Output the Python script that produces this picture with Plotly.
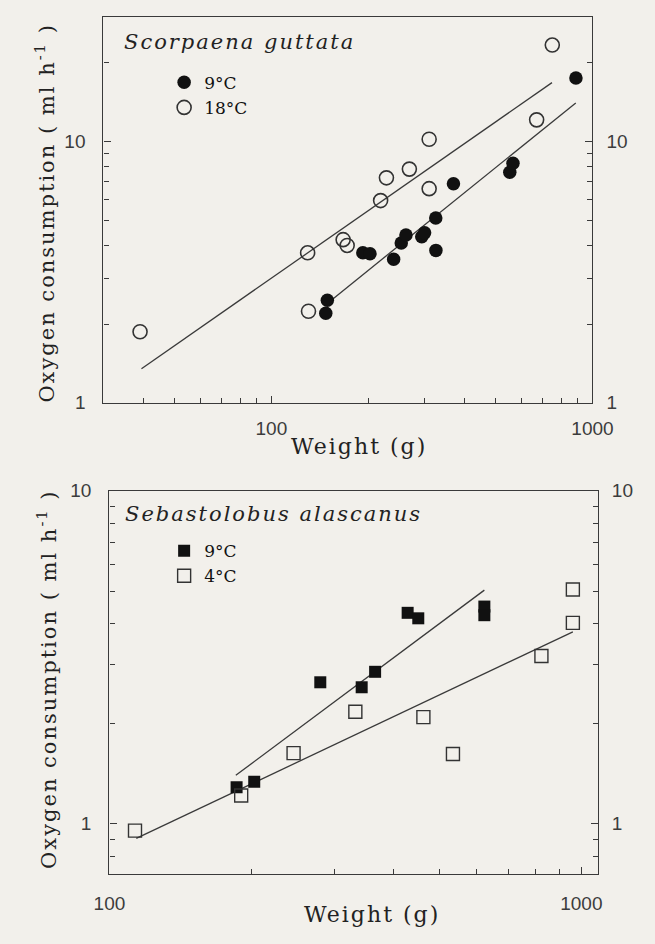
import plotly.graph_objects as go
import math

# ---------------- data: Scorpaena guttata (top panel) ----------------
w_sg_9 = [147.7, 149.4, 192.7, 202.8, 240.3, 253.8, 262.5, 294, 300, 325, 325.4, 369, 552.6, 565.5, 888]
o2_sg_9 = [2.20, 2.47, 3.75, 3.72, 3.54, 4.09, 4.39, 4.32, 4.47, 5.10, 3.83, 6.89, 7.62, 8.25, 17.5]
w_sg_18 = [39.0, 129.7, 130.5, 167.3, 172.2, 218.9, 228.2, 269, 310, 310, 670, 749.6]
o2_sg_18 = [1.87, 3.75, 2.24, 4.21, 4.00, 5.94, 7.26, 7.84, 10.2, 6.60, 12.1, 23.4]
fit_sg_9_w = [153.7, 887]
fit_sg_9_o2 = [2.47, 14.05]
fit_sg_18_w = [39.4, 748]
fit_sg_18_o2 = [1.35, 16.8]

# ---------------- data: Sebastolobus alascanus (bottom panel) ----------------
w_sa_9 = [186, 202.7, 279.8, 342.4, 365.6, 428.5, 451.3, 623, 623]
o2_sa_9 = [1.287, 1.337, 2.66, 2.57, 2.86, 4.30, 4.14, 4.49, 4.23]
w_sa_4 = [113.3, 190.2, 245.6, 332, 462.7, 534.5, 823, 959.5, 959.5]
o2_sa_4 = [0.954, 1.216, 1.63, 2.17, 2.09, 1.62, 3.19, 4.01, 5.05]
fit_sa_9_w = [185.3, 623]
fit_sa_9_o2 = [1.398, 5.03]
fit_sa_4_w = [114, 959.5]
fit_sa_4_o2 = [0.904, 3.77]

# ---------------- tick labels ----------------
x_major = [100, 1000]
x_major_text = ["100", "1000"]
y_major = [1, 10]
y_major_text = ["1", "10"]
x_minor_top = [30, 40, 50, 60, 70, 80, 90, 200, 300, 400, 500, 600, 700, 800, 900]
y_minor_top = [2, 3, 4, 5, 6, 7, 8, 9, 20]
x_minor_bot = [200, 300, 400, 500, 600, 700, 800, 900]
y_minor_bot = [0.8, 0.9, 2, 3, 4, 5, 6, 7, 8, 9]

W, H = 655, 944
BG = "#f2f0eb"
INK = "#111111"
LINE = "#3a3a3a"
SERIF = "DejaVu Serif"
SANS = "Liberation Sans"


def px(x):
    return x / W


def py(y):
    return 1 - y / H


fig = go.Figure()

# top panel traces
fig.add_trace(go.Scatter(x=fit_sg_18_w, y=fit_sg_18_o2, mode="lines", line=dict(color=LINE, width=1.3),
                         showlegend=False, xaxis="x", yaxis="y", hoverinfo="skip"))
fig.add_trace(go.Scatter(x=fit_sg_9_w, y=fit_sg_9_o2, mode="lines", line=dict(color=LINE, width=1.3),
                         showlegend=False, xaxis="x", yaxis="y", hoverinfo="skip"))
fig.add_trace(go.Scatter(x=w_sg_9, y=o2_sg_9, mode="markers", name="9°C",
                         marker=dict(symbol="circle", size=13.5, color=INK, line=dict(width=0)),
                         xaxis="x", yaxis="y", legend="legend"))
fig.add_trace(go.Scatter(x=w_sg_18, y=o2_sg_18, mode="markers", name="18°C",
                         marker=dict(symbol="circle-open", size=14, color="#333333", line=dict(width=1.6)),
                         xaxis="x", yaxis="y", legend="legend"))
# empty trace so the right-hand mirror axis is rendered
fig.add_trace(go.Scatter(x=[], y=[], mode="markers", showlegend=False, xaxis="x", yaxis="y2",
                         hoverinfo="skip"))

# bottom panel traces
fig.add_trace(go.Scatter(x=fit_sa_9_w, y=fit_sa_9_o2, mode="lines", line=dict(color=LINE, width=1.3),
                         showlegend=False, xaxis="x2", yaxis="y3", hoverinfo="skip"))
fig.add_trace(go.Scatter(x=fit_sa_4_w, y=fit_sa_4_o2, mode="lines", line=dict(color=LINE, width=1.3),
                         showlegend=False, xaxis="x2", yaxis="y3", hoverinfo="skip"))
fig.add_trace(go.Scatter(x=w_sa_9, y=o2_sa_9, mode="markers", name="9°C",
                         marker=dict(symbol="square", size=12, color=INK, line=dict(width=0)),
                         xaxis="x2", yaxis="y3", legend="legend2"))
fig.add_trace(go.Scatter(x=w_sa_4, y=o2_sa_4, mode="markers", name="4°C",
                         marker=dict(symbol="square-open", size=13, color="#333333", line=dict(width=1.4)),
                         xaxis="x2", yaxis="y3", legend="legend2"))
fig.add_trace(go.Scatter(x=[], y=[], mode="markers", showlegend=False, xaxis="x2", yaxis="y4",
                         hoverinfo="skip"))

tickfont = dict(family=SANS, size=19, color="#3c3c3c")
common = dict(type="log", showgrid=False, zeroline=False, ticks="inside", ticklen=7, tickwidth=1.2,
              tickcolor=LINE, tickfont=tickfont)


def xaxis(domain, anchor, rng, minor_vals, standoff):
    return dict(common, domain=domain, anchor=anchor, range=rng, tickmode="array",
                tickvals=x_major, ticktext=x_major_text, showline=True, linecolor=LINE, linewidth=1.4,
                mirror=True, ticklabelstandoff=standoff,
                minor=dict(tickmode="array", tickvals=minor_vals, ticks="inside", ticklen=5,
                           tickwidth=1.1, tickcolor=LINE, showgrid=False))


def yaxis(domain, anchor, rng, minor_vals, side="left", overlaying=None):
    d = dict(common, domain=domain, anchor=anchor, range=rng, tickmode="array",
             tickvals=y_major, ticktext=y_major_text, side=side, ticklabelstandoff=13,
             minor=dict(tickmode="array", tickvals=minor_vals, ticks="inside", ticklen=5,
                        tickwidth=1.1, tickcolor=LINE, showgrid=False))
    if overlaying:
        d.update(overlaying=overlaying, showline=False)
    else:
        d.update(showline=True, linecolor=LINE, linewidth=1.4, mirror=True)
    return d


top_x_dom = [px(92.7), px(611)]
top_y_dom = [py(401.7), py(7)]
bot_x_dom = [px(99), px(616.7)]
bot_y_dom = [py(884), py(491.7)]

top_xr = [math.log10(30), 3]
top_yr = [0, math.log10(30)]
bot_xr = [2, 3.035]
bot_yr = [math.log10(0.705), 1]

fig.update_layout(
    width=W, height=H,
    margin=dict(l=0, r=0, t=0, b=0),
    paper_bgcolor=BG, plot_bgcolor=BG,
    xaxis=xaxis(top_x_dom, "y", top_xr, x_minor_top, 8),
    yaxis=yaxis(top_y_dom, "x", top_yr, y_minor_top),
    yaxis2=yaxis(top_y_dom, "x", top_yr, y_minor_top, side="right", overlaying="y"),
    xaxis2=xaxis(bot_x_dom, "y3", bot_xr, x_minor_bot, 12),
    yaxis3=yaxis(bot_y_dom, "x2", bot_yr, y_minor_bot),
    yaxis4=yaxis(bot_y_dom, "x2", bot_yr, y_minor_bot, side="right", overlaying="y3"),
    legend=dict(x=px(157), y=py(56), xanchor="left", yanchor="top", bgcolor="rgba(0,0,0,0)",
                font=dict(family=SERIF, size=17, color=INK), tracegroupgap=0, itemwidth=30),
    legend2=dict(x=px(157), y=py(535), xanchor="left", yanchor="top", bgcolor="rgba(0,0,0,0)",
                 font=dict(family=SERIF, size=17, color=INK), tracegroupgap=0, itemwidth=30),
    showlegend=True,
)

title_font = dict(family=SERIF, size=21, color="#222222")
xtitle_font = dict(family=SERIF, size=22, color="#222222")
name_font = dict(family=SERIF, size=21, color="#222222")
ann = [
    dict(text="<span style='letter-spacing:2px'><i>Scorpaena guttata</i></span>", x=px(112), y=py(33),
         xanchor="left", yanchor="middle", font=name_font),
    dict(text="<span style='letter-spacing:2px'><i>Sebastolobus alascanus</i></span>", x=px(113), y=py(515),
         xanchor="left", yanchor="middle", font=name_font),
    dict(text="<span style='letter-spacing:2px'>Weight (g)</span>", x=px(364), y=py(446),
         xanchor="center", yanchor="middle", font=xtitle_font),
    dict(text="<span style='letter-spacing:2px'>Weight (g)</span>", x=px(377), y=py(925),
         xanchor="center", yanchor="middle", font=xtitle_font),
    dict(text="<span style='letter-spacing:2px'>Oxygen consumption ( ml h<sup>-1</sup> )</span>",
         x=px(31), y=py(208), xanchor="center", yanchor="middle", textangle=-90, font=title_font),
    dict(text="<span style='letter-spacing:2px'>Oxygen consumption ( ml h<sup>-1</sup> )</span>",
         x=px(33), y=py(685), xanchor="center", yanchor="middle", textangle=-90, font=title_font),
]
for a in ann:
    a.update(xref="paper", yref="paper", showarrow=False)
fig.update_layout(annotations=ann)

fig.write_html("out.html")
